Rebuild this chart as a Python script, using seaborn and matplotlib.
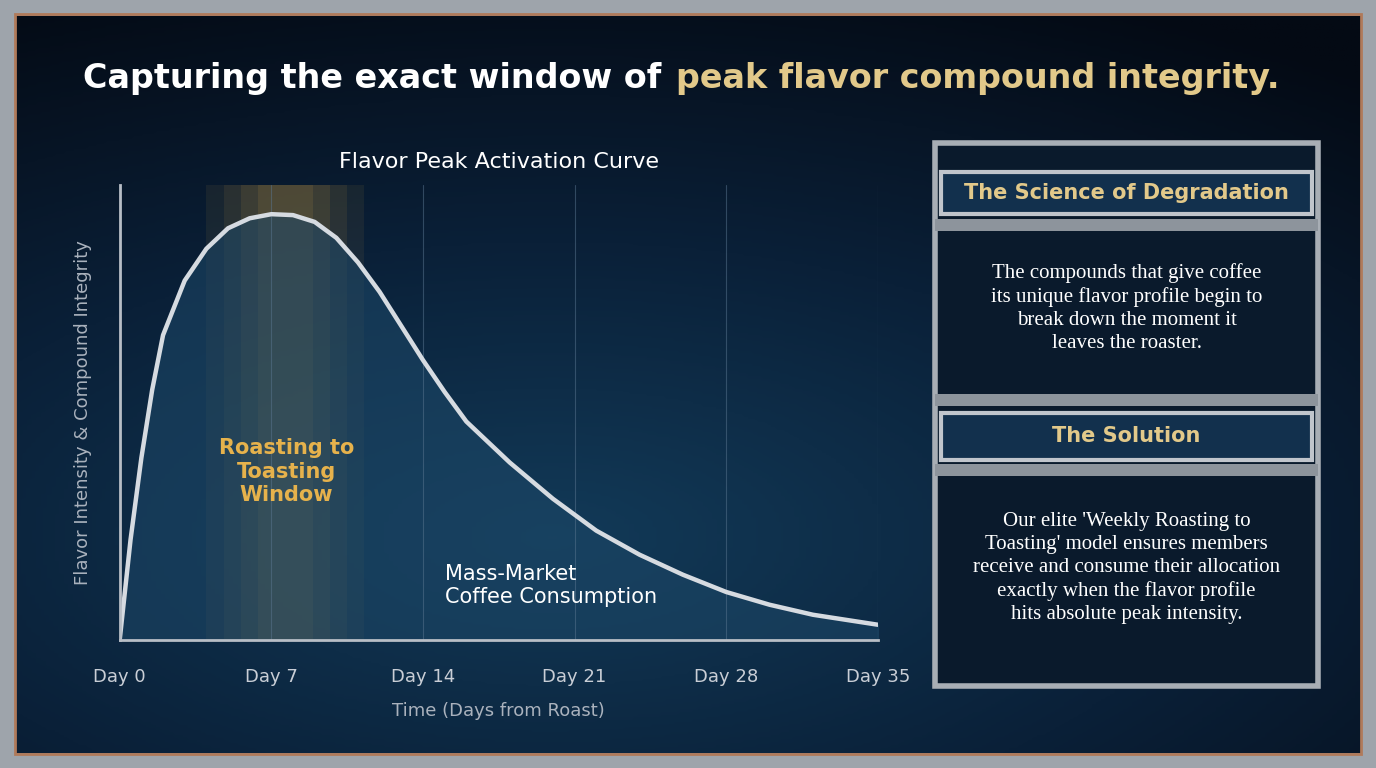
import numpy as np
import pandas as pd
import matplotlib.pyplot as plt
import seaborn as sns
from matplotlib.patches import Rectangle

# Data
days = [0, 0.5, 1, 1.5, 2, 3, 4, 5, 6, 7, 8, 9, 10, 11, 12, 13, 14, 15, 16,
        18, 20, 22, 24, 26, 28, 30, 32, 35]
intensity = [0, 22, 40, 55, 67, 79, 86, 90.5, 92.7, 93.6, 93.4, 91.9, 88.4, 83, 76.5,
             69, 61.5, 54.5, 48, 39, 31, 24, 18.7, 14.3, 10.5, 7.7, 5.5, 3.3]
tick_days = [0, 7, 14, 21, 28, 35]
tick_labels = ["Day 0", "Day 7", "Day 14", "Day 21", "Day 28", "Day 35"]
window = (4, 11)

df = pd.DataFrame({"day": days, "intensity": intensity})

sns.set_style("dark")
plt.rcParams['font.family'] = ['DejaVu Sans']
fig = plt.figure(figsize=(13.76, 7.68), dpi=100)

# background gradient + metallic frame
bg = fig.add_axes([0, 0, 1, 1], zorder=-10)
yy, xx = np.mgrid[0:1:300j, 0:1:300j]
r = np.sqrt(((xx - 0.4) * 0.8) ** 2 + (yy - 0.7) ** 2)
bg.imshow(np.clip(1 - r * 1.3, 0, 1), cmap=sns.blend_palette(["#040a14", "#0a2038", "#123a58"], as_cmap=True),
          extent=[0, 1, 0, 1], aspect="auto")
bg.add_patch(Rectangle((0, 0), 1, 1, fill=False, lw=22, ec="#9ea4ab"))
bg.add_patch(Rectangle((0.011, 0.018), 0.978, 0.964, fill=False, lw=2, ec="#b07a5a"))
bg.set_xlim(0, 1); bg.set_ylim(0, 1); bg.axis("off")

fig.text(0.489, 0.898, "Capturing the exact window of ", ha="right", va="center",
         color="white", fontsize=24, fontweight="bold")
fig.text(0.491, 0.898, "peak flavor compound integrity.", ha="left", va="center",
         color="#e2c98a", fontsize=24, fontweight="bold")

ax = fig.add_axes([0.087, 0.167, 0.551, 0.592])
ax.set_facecolor((0, 0, 0, 0))
# soft golden glow for the window
for k, a in enumerate([0.07, 0.08, 0.09, 0.1]):
    ax.axvspan(window[0] + k * 0.8, window[1] - k * 0.8 + 0.3, color="#f2b84a", alpha=a, lw=0)
for d in tick_days[1:]:
    ax.axvline(d, color="#5a7690", lw=0.8, alpha=0.5)
ax.fill_between(days, intensity, color="#1d4868", alpha=0.55)
sns.lineplot(data=df, x="day", y="intensity", ax=ax, color="#d6dbe1", lw=3.2)
ax.set_xlim(0, 35); ax.set_ylim(0, 100)
ax.set_xticks(tick_days, tick_labels, color="#c9ced6", fontsize=13)
ax.set_yticks([])
ax.tick_params(axis="x", length=0, pad=20)
for s in ["top", "right"]:
    ax.spines[s].set_visible(False)
for s in ["left", "bottom"]:
    ax.spines[s].set_color("#b8bec6"); ax.spines[s].set_linewidth(2)
ax.set_xlabel("Time (Days from Roast)", color="#aab2bd", fontsize=13, labelpad=12)
ax.set_ylabel("Flavor Intensity & Compound Integrity", color="#aab2bd", fontsize=13, labelpad=20)
ax.set_title("Flavor Peak Activation Curve", color="white", fontsize=16, pad=12)
ax.text(7.7, 37, "Roasting to\nToasting\nWindow", color="#e6b24c", fontsize=15,
        fontweight="bold", ha="center", va="center")
ax.text(15, 12, "Mass-Market\nCoffee Consumption", color="white", fontsize=15, ha="left", va="center")

# right panel
px0, px1 = 935 / 1376, 1318 / 1376
def fy(p):
    return 1 - p / 768
bg.add_patch(Rectangle((px0, fy(686)), px1 - px0, fy(143) - fy(686), fc="#0a1a2c", ec="#a8aeb5", lw=4))
for top, bot, label in [(172, 214, "The Science of Degradation"), (413, 460, "The Solution")]:
    bg.add_patch(Rectangle((px0 + 0.004, fy(bot)), px1 - px0 - 0.008, fy(top) - fy(bot),
                           fc="#12304d", ec="#c0c5cc", lw=3))
    fig.text((px0 + px1) / 2, fy((top + bot) / 2), label, ha="center", va="center",
             color="#e2c98a", fontsize=15, fontweight="bold")
for y in [225, 400, 470]:
    bg.add_patch(Rectangle((px0, fy(y + 6)), px1 - px0, 12 / 768, fc="#8d949c", ec="none"))
fig.text((px0 + px1) / 2, fy(308),
         "The compounds that give coffee\nits unique flavor profile begin to\nbreak down the moment it\nleaves the roaster.",
         ha="center", va="center", color="white", fontsize=15, family="Liberation Serif", linespacing=1.3)
fig.text((px0 + px1) / 2, fy(568),
         "Our elite 'Weekly Roasting to\nToasting' model ensures members\nreceive and consume their allocation\nexactly when the flavor profile\nhits absolute peak intensity.",
         ha="center", va="center", color="white", fontsize=15, family="Liberation Serif", linespacing=1.3)

fig.savefig("out.png", dpi=100)
